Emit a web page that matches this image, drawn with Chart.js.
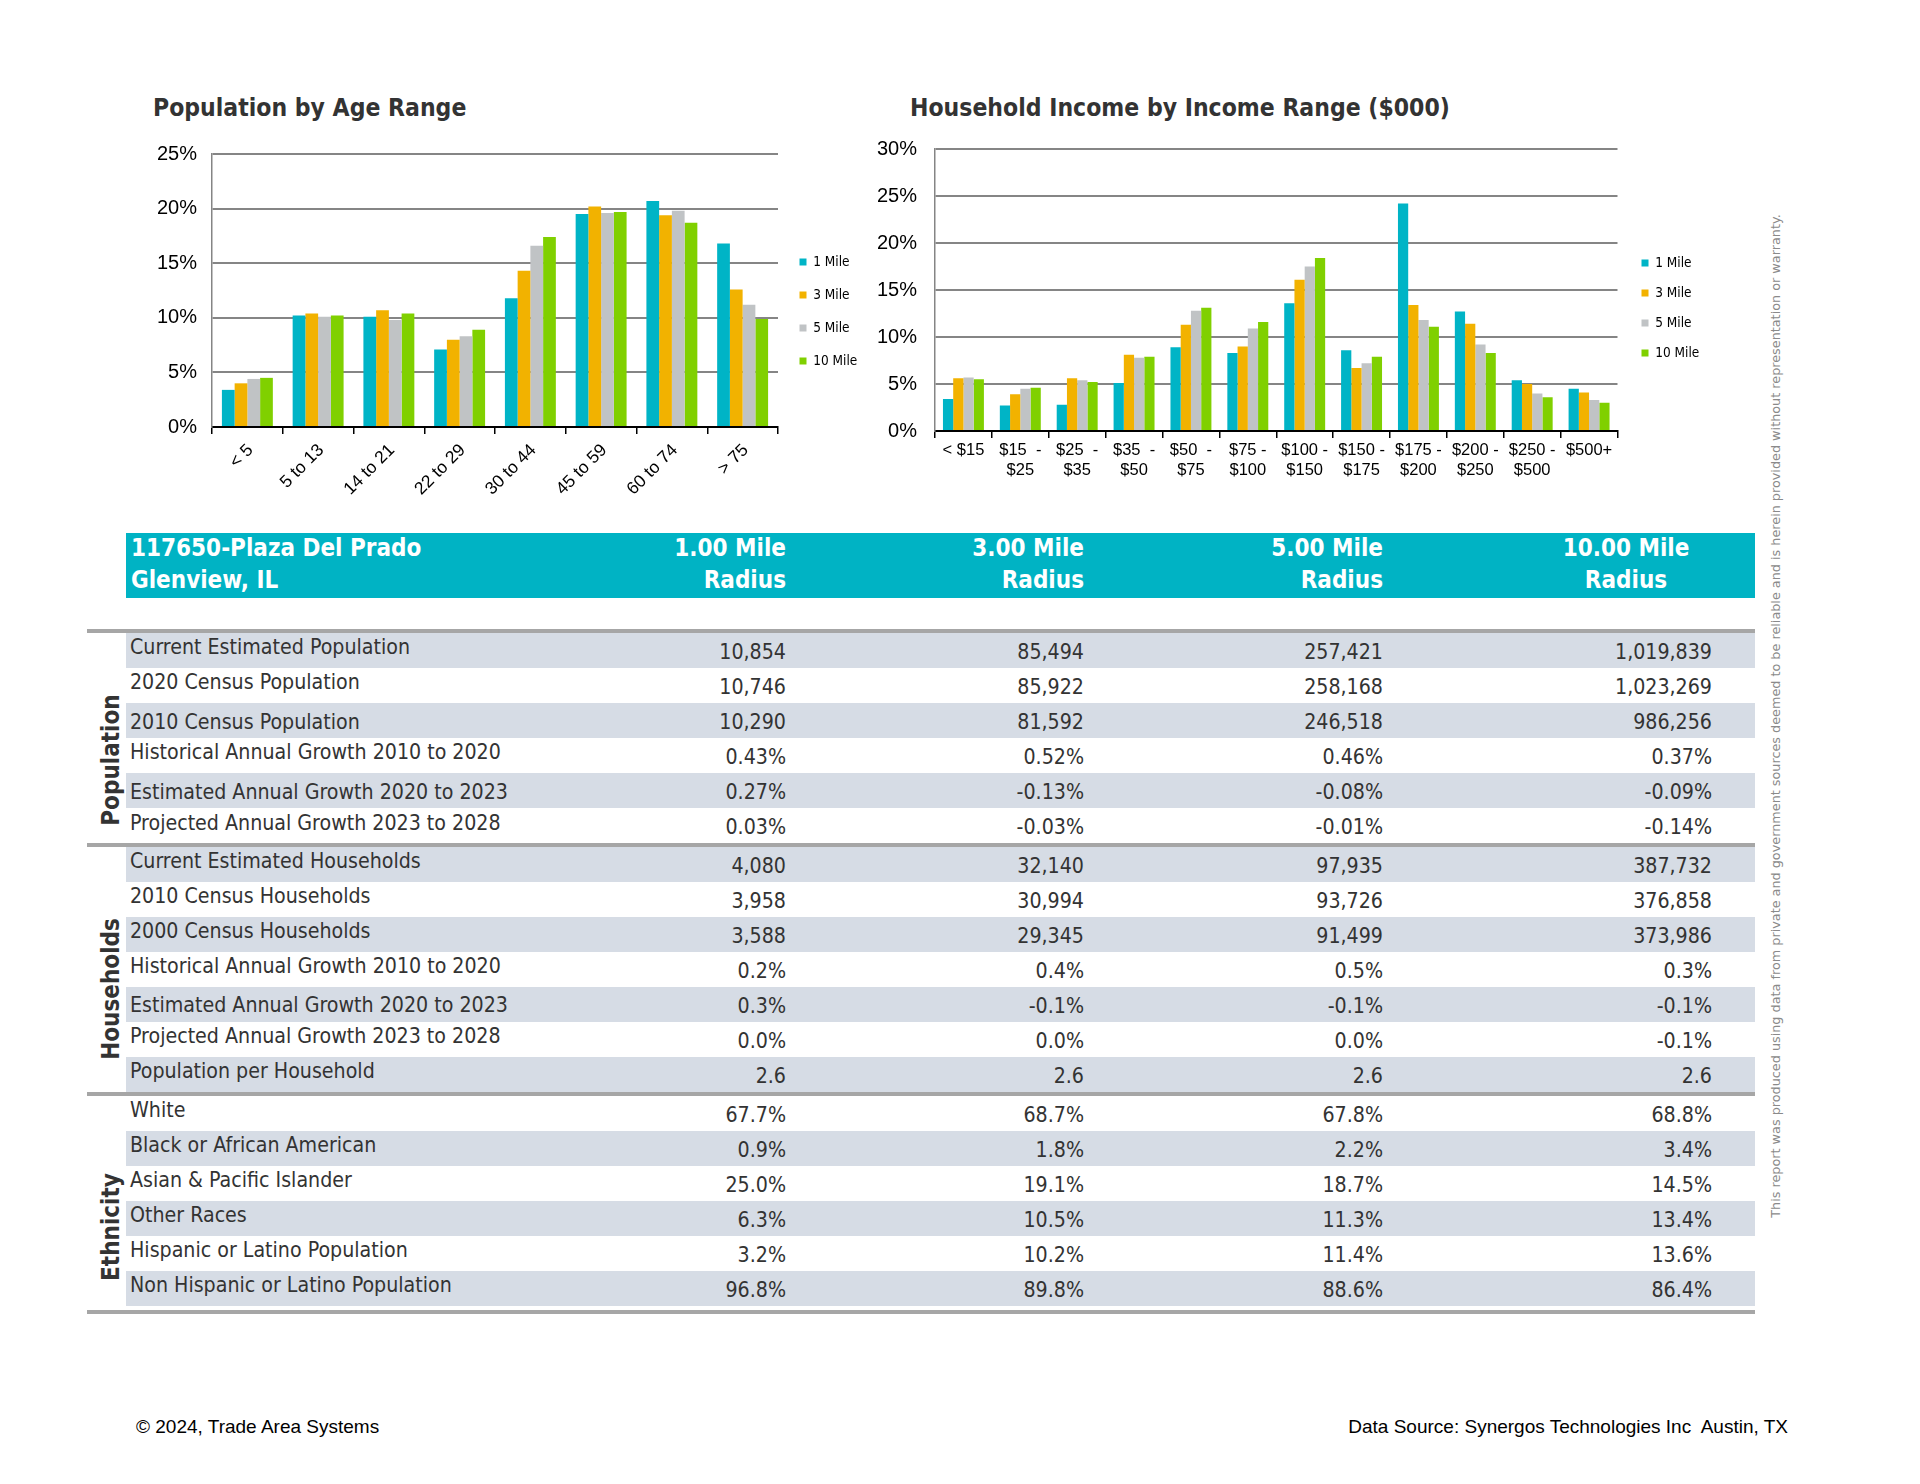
<!DOCTYPE html>
<html>
<head>
<meta charset="utf-8">
<script src="https://cdn.jsdelivr.net/npm/chart.js@4.4.1/dist/chart.umd.min.js"></script>
<style>
  html, body { margin: 0; padding: 0; background: #fff; }
  body { width: 1920px; height: 1484px; position: relative; overflow: hidden; }
  .abs { position: absolute; white-space: pre; }
  .ctitle { font-family: 'DejaVu Sans Condensed', 'DejaVu Sans', sans-serif; font-weight: bold; font-size: 24.5px; color: #333; line-height: 30px; }
  .tbl { font-family: 'DejaVu Sans Condensed', 'DejaVu Sans', sans-serif; font-size: 21.2px; color: #333; line-height: 26px; }
  .hdr { font-family: 'DejaVu Sans Condensed', 'DejaVu Sans', sans-serif; font-weight: bold; font-size: 24px; color: #fff; line-height: 32px; }
  .sec { font-family: 'DejaVu Sans Condensed', 'DejaVu Sans', sans-serif; font-weight: bold; font-size: 24px; color: #333; line-height: 26px; }
  .foot { font-family: 'Liberation Sans', Arial, sans-serif; font-size: 19px; color: #000; line-height: 22px; }
  .disc { font-family: 'DejaVu Sans', Verdana, sans-serif; font-size: 12.8px; color: #8a8a8a; line-height: 14px; }
</style>
</head>
<body>
<div class="abs ctitle" style="left:153px; top:93px;">Population by Age Range</div>
<div class="abs ctitle" style="left:910px; top:93px;">Household Income by Income Range ($000)</div>
<canvas id="ageChart" width="770" height="400" style="position:absolute; left:130px; top:120px;"></canvas>
<canvas id="incChart" width="870" height="385" style="position:absolute; left:870px; top:115px;"></canvas>
<div id="table"></div>
<div class="abs foot" style="left:136px; top:1416px;">© 2024, Trade Area Systems</div>
<div class="abs foot" style="right:132px; top:1416px;">Data Source: Synergos Technologies Inc  Austin, TX</div>
<div class="abs disc" id="disc">This report was produced using data from private and government sources deemed to be reliable and is herein provided without representation or warranty.</div>

<script>
// ---------------- DATA ----------------
const seriesNames = ['1 Mile', '3 Mile', '5 Mile', '10 Mile'];
const seriesColors = ['#00B4C6', '#F2B200', '#C0C3C5', '#80D000'];

const ageCategories = ['< 5', '5 to 13', '14 to 21', '22 to 29', '30 to 44', '45 to 59', '60 to 74', '> 75'];
const age1Mile  = [3.4, 10.2, 10.1, 7.1, 11.8, 19.5, 20.7, 16.8];
const age3Mile  = [4.0, 10.4, 10.7, 8.0, 14.3, 20.2, 19.4, 12.6];
const age5Mile  = [4.4, 10.1, 9.8, 8.3, 16.6, 19.6, 19.8, 11.2];
const age10Mile = [4.5, 10.2, 10.4, 8.9, 17.4, 19.7, 18.7, 9.9];
const ageTicks = [0, 5, 10, 15, 20, 25];

const incomeCategories = [['< $15'], ['$15  -', '$25'], ['$25  -', '$35'], ['$35  -', '$50'], ['$50  -', '$75'],
  ['$75 -', '$100'], ['$100 -', '$150'], ['$150 -', '$175'], ['$175 -', '$200'], ['$200 -', '$250'], ['$250 -', '$500'], ['$500+']];
const inc1Mile  = [3.4, 2.7, 2.8, 5.1, 8.9, 8.3, 13.6, 8.6, 24.2, 12.7, 5.4, 4.5];
const inc3Mile  = [5.6, 3.9, 5.6, 8.1, 11.3, 9.0, 16.1, 6.7, 13.4, 11.4, 5.0, 4.1];
const inc5Mile  = [5.7, 4.5, 5.4, 7.8, 12.8, 10.9, 17.5, 7.2, 11.8, 9.2, 4.0, 3.3];
const inc10Mile = [5.5, 4.6, 5.2, 7.9, 13.1, 11.6, 18.4, 7.9, 11.1, 8.3, 3.6, 3.0];
const incomeTicks = [0, 5, 10, 15, 20, 25, 30];

const siteName = '117650-Plaza Del Prado';
const siteCity = 'Glenview, IL';
const radiusHeaders = [['1.00 Mile', 'Radius'], ['3.00 Mile', 'Radius'], ['5.00 Mile', 'Radius'], ['10.00 Mile', 'Radius']];

const populationRows = [
  ['Current Estimated Population', '10,854', '85,494', '257,421', '1,019,839'],
  ['2020 Census Population', '10,746', '85,922', '258,168', '1,023,269'],
  ['2010 Census Population', '10,290', '81,592', '246,518', '986,256'],
  ['Historical Annual Growth 2010 to 2020', '0.43%', '0.52%', '0.46%', '0.37%'],
  ['Estimated Annual Growth 2020 to 2023', '0.27%', '-0.13%', '-0.08%', '-0.09%'],
  ['Projected Annual Growth 2023 to 2028', '0.03%', '-0.03%', '-0.01%', '-0.14%']
];
const householdRows = [
  ['Current Estimated Households', '4,080', '32,140', '97,935', '387,732'],
  ['2010 Census Households', '3,958', '30,994', '93,726', '376,858'],
  ['2000 Census Households', '3,588', '29,345', '91,499', '373,986'],
  ['Historical Annual Growth 2010 to 2020', '0.2%', '0.4%', '0.5%', '0.3%'],
  ['Estimated Annual Growth 2020 to 2023', '0.3%', '-0.1%', '-0.1%', '-0.1%'],
  ['Projected Annual Growth 2023 to 2028', '0.0%', '0.0%', '0.0%', '-0.1%'],
  ['Population per Household', '2.6', '2.6', '2.6', '2.6']
];
const ethnicityRows = [
  ['White', '67.7%', '68.7%', '67.8%', '68.8%'],
  ['Black or African American', '0.9%', '1.8%', '2.2%', '3.4%'],
  ['Asian & Pacific Islander', '25.0%', '19.1%', '18.7%', '14.5%'],
  ['Other Races', '6.3%', '10.5%', '11.3%', '13.4%'],
  ['Hispanic or Latino Population', '3.2%', '10.2%', '11.4%', '13.6%'],
  ['Non Hispanic or Latino Population', '96.8%', '89.8%', '88.6%', '86.4%']
];
const sectionNames = ['Population', 'Households', 'Ethnicity'];

// ---------------- CHARTS ----------------
const legendTweak = {
  id: 'legendTweak',
  beforeLayout(chart, args, opts) {
    const l = chart.legend;
    if (l && !l._tw) {
      const origFit = l.fit;
      l.fit = function () { origFit.call(this); this.width = opts.width; };
      l._tw = true;
    }
  },
  afterLayout(chart, args, opts) {
    const l = chart.legend;
    if (!l) return;
    l.left += opts.dx; l.right += opts.dx;
    l.top += opts.dy; l.bottom += opts.dy;
  }
};

const tickFont = { family: "'Liberation Sans', Arial, sans-serif", size: 20 };

function makeChart(id, labels, data, ticks, cfg) {
  const datasets = seriesNames.map((n, i) => ({
    label: n, data: data[i], backgroundColor: seriesColors[i], borderWidth: 0,
    categoryPercentage: 0.72, barPercentage: 1.0
  }));
  return new Chart(document.getElementById(id), {
    type: 'bar',
    data: { labels, datasets },
    plugins: [legendTweak],
    options: {
      responsive: false, animation: false, devicePixelRatio: 1,
      layout: { padding: { top: 34, left: 0, right: 0, bottom: 0 } },
      plugins: {
        legend: {
          position: 'right', align: 'center', fullSize: false,
          labels: { boxWidth: 7, boxHeight: 7, padding: cfg.legendPad, color: '#000',
            font: { family: "'DejaVu Sans Condensed', 'DejaVu Sans', sans-serif", size: 13.5 } }
        },
        legendTweak: { width: cfg.legendWidth, dx: cfg.dx, dy: cfg.dy },
        tooltip: { enabled: false }
      },
      scales: {
        x: {
          offset: true,
          grid: { offset: true, drawOnChartArea: false, drawTicks: true, tickLength: 7, color: '#000', lineWidth: 1.5 },
          border: { display: true, color: '#000', width: 2 },
          ticks: Object.assign({ autoSkip: false, color: '#000', padding: cfg.xPad }, cfg.xTicks),
          afterFit: (s) => { s.height = cfg.xHeight; }
        },
        y: {
          min: ticks[0], max: ticks[ticks.length - 1],
          afterBuildTicks: (s) => { s.ticks = ticks.map(v => ({ value: v })); },
          grid: { color: '#858585', lineWidth: 2, drawTicks: false },
          border: { display: true, color: '#858585', width: 1.5 },
          ticks: { color: '#000', font: tickFont, padding: cfg.yPad, callback: (v) => v + '%' },
          afterFit: (s) => { s.width = cfg.yWidth; }
        }
      }
    }
  });
}

makeChart('ageChart', ageCategories, [age1Mile, age3Mile, age5Mile, age10Mile], ageTicks, {
  legendPad: 19.5, legendWidth: 122, dx: 2, dy: 21, xHeight: 93, yWidth: 82, yPad: 15, xPad: 6,
  xTicks: { minRotation: 45, maxRotation: 45, labelOffset: 3, font: { family: "'Liberation Sans', Arial, sans-serif", size: 17.5 } }
});
makeChart('incChart', incomeCategories, [inc1Mile, inc3Mile, inc5Mile, inc10Mile], incomeTicks, {
  legendPad: 16.5, legendWidth: 122.5, dx: 7.5, dy: 18, xHeight: 69, yWidth: 65, yPad: 18, xPad: 2,
  xTicks: { minRotation: 0, maxRotation: 0, font: { family: "'Liberation Sans', Arial, sans-serif", size: 16.5, lineHeight: 1.22 } }
});

// ---------------- TABLE ----------------
// per-row vertical nudges of the row labels (style only)
const labelNudges = [[0, 0, 5, 0, 5, 1], [0, 0, 0, 0, 4, 0, 0], [0, 0, 0, 0, 0, 0]];

(function buildTable() {
  const root = document.getElementById('table');
  const add = (cls, style, text) => {
    const d = document.createElement('div');
    d.className = 'abs ' + cls;
    d.setAttribute('style', style);
    if (text !== undefined) d.textContent = text;
    root.appendChild(d);
    return d;
  };
  const T_LEFT = 126, T_RIGHT = 1755, LINE_LEFT = 87;
  const valueRights = [786, 1084, 1383, 1712];
  // header band
  add('', `left:${T_LEFT}px; top:533px; width:${T_RIGHT - T_LEFT}px; height:65px; background:#00B3C4;`);
  add('hdr', 'left:131px; top:532px;', siteName);
  add('hdr', 'left:131px; top:564px;', siteCity);
  radiusHeaders.forEach((h, i) => {
    if (i < 3) {
      add('hdr', `right:${1920 - valueRights[i]}px; top:532px; text-align:right;`, h[0]);
      add('hdr', `right:${1920 - valueRights[i]}px; top:564px; text-align:right;`, h[1]);
    } else {
      add('hdr', `left:1526px; width:200px; top:532px; text-align:center;`, h[0]);
      add('hdr', `left:1526px; width:200px; top:564px; text-align:center;`, h[1]);
    }
  });
  const ROW_H = 35, LINE_H = 4;
  const sections = [populationRows, householdRows, ethnicityRows];
  const secOffsets = [22, 19, 26];
  let y = 629, g = 0;
  sections.forEach((rows, si) => {
    add('', `left:${LINE_LEFT}px; top:${y}px; width:${T_RIGHT - LINE_LEFT}px; height:${LINE_H}px; background:#A6A6A6;`);
    y += LINE_H;
    const secTop = y;
    rows.forEach((r, ri) => {
      if (g % 2 === 0) add('', `left:${T_LEFT}px; top:${y}px; width:${T_RIGHT - T_LEFT}px; height:${ROW_H}px; background:#D6DCE5;`);
      add('tbl', `left:130px; top:${y + 1 + labelNudges[si][ri]}px;`, r[0]);
      for (let c = 0; c < 4; c++) {
        add('tbl', `right:${1920 - valueRights[c]}px; top:${y + 6}px; text-align:right;`, r[c + 1]);
      }
      y += ROW_H; g++;
    });
    const cy = (secTop + y) / 2 + secOffsets[si];
    add('sec', `left:${111 - 100}px; top:${cy - 13}px; width:200px; text-align:center; transform:rotate(-90deg);`, sectionNames[si]);
  });
  y += 4;
  add('', `left:${LINE_LEFT}px; top:${y}px; width:${T_RIGHT - LINE_LEFT}px; height:${LINE_H}px; background:#A6A6A6;`);
})();

// disclaimer rotated
(function () {
  const d = document.getElementById('disc');
  const w = 1100;
  d.style.width = w + 'px';
  d.style.textAlign = 'center';
  d.style.left = (1776 - w / 2) + 'px';
  d.style.top = (716 - 7) + 'px';
  d.style.transform = 'rotate(-90deg)';
})();
</script>
</body>
</html>
